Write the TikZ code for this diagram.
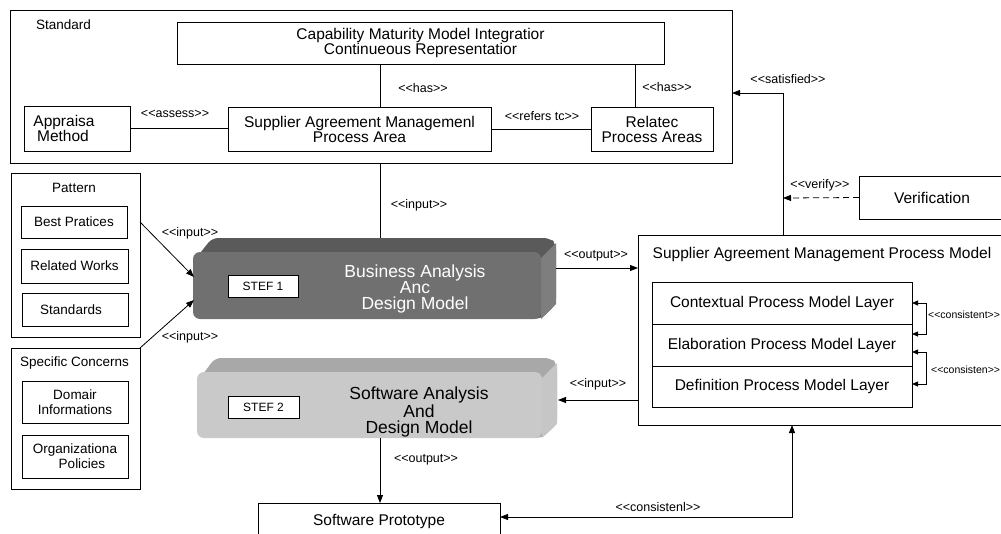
\documentclass[tikz,border=0pt]{standalone}
\usepackage{fontspec}
\setmainfont{Liberation Sans}
\usetikzlibrary{arrows.meta,calc}
\definecolor{sonetop}{HTML}{5A5A5A}
\definecolor{soneside}{HTML}{7E7E7E}
\definecolor{sonefront}{HTML}{707070}
\definecolor{stwotop}{HTML}{A8A8A8}
\definecolor{stwoside}{HTML}{C6C6C6}
\definecolor{stwofront}{HTML}{C9C9C9}
\newcommand\stereo[1]{<\kern0pt<#1>\kern0pt>}
\begin{document}
\begin{tikzpicture}[x=1pt,y=-1pt,
  box/.style={draw=black, line width=0.8pt, inner sep=0pt, outer sep=0pt, align=center, font=\fontsize{15.5}{15}\selectfont},
  sbox/.style={box, font=\fontsize{13.5}{15}\selectfont},
  txt/.style={inner sep=0pt, align=center, font=\fontsize{15.5}{15}\selectfont},
  stxt/.style={inner sep=0pt, align=center, font=\fontsize{13.5}{15}\selectfont},
  lbl/.style={inner sep=0pt, font=\fontsize{12.5}{13}\selectfont},
  tlbl/.style={inner sep=0pt, font=\fontsize{10.5}{11}\selectfont},
  ln/.style={line width=0.8pt},
  arr/.style={-{Triangle[length=8pt,width=6pt]}, line width=0.8pt},
  dbl/.style={{Triangle[length=8pt,width=6pt]}-{Triangle[length=8pt,width=6pt]}, line width=0.8pt},
  sdbl/.style={{Triangle[length=6pt,width=5pt]}-{Triangle[length=6pt,width=5pt]}, line width=0.8pt},
  steptext/.style={inner sep=0pt, align=center, font=\fontsize{17.5}{16}\selectfont},
  steplabel/.style={draw=black, fill=white, line width=0.8pt, inner sep=0pt, font=\fontsize{12}{13}\selectfont},
]
\useasboundingbox (0,0) rectangle (1001,533);
\clip (0,0) rectangle (1001,533);

% ---------- Standard ----------
\node[box, minimum width=722pt, minimum height=153pt] (std) at (371,86.5) {};
\node[stxt, anchor=west] (stdl) at (36,25) {Standard};
\node[box, minimum width=487pt, minimum height=42pt] (cmmi) at (420.5,43) {Capability Maturity Model Integratior\\Continueous Representatior};
\node[box, minimum width=263pt, minimum height=44pt] (sampa) at (359.5,129) {Supplier Agreement Managemenl\\Process Area};
\node[box, minimum width=106pt, minimum height=45pt] (appr) at (77,128.5) {\hspace*{-26pt}Appraisa\\\hspace*{-28pt}Method};
\node[box, minimum width=122pt, minimum height=44pt] (rel) at (652,129) {Relatec\\Process Areas};

\coordinate (hasa) at (380,0);
\draw[ln] (hasa |- cmmi.south) -- (hasa |- sampa.north);
\coordinate (hasb) at (635,0);
\draw[ln] (hasb |- cmmi.south) -- (hasb |- rel.north);
\draw[ln] (appr.east) -- (appr.east -| sampa.west);
\draw[ln] (sampa.east) -- (sampa.east -| rel.west);
\node[lbl] (lhasa) at (423,88) {\stereo{has}};
\node[lbl] (lhasb) at (667,87) {\stereo{has}};
\node[lbl] (lassess) at (175,114) {\stereo{assess}};
\node[lbl] (lrefers) at (542,116) {\stereo{refers tc}};

% ---------- Pattern ----------
\node[box, minimum width=129pt, minimum height=164pt] (pat) at (75.5,255) {};
\node[stxt] (patl) at (74,188) {Pattern};
\node[sbox, minimum width=106pt, minimum height=32pt] (best) at (74,222) {Best Pratices};
\node[sbox, minimum width=107pt, minimum height=34pt] (relw) at (74.5,266) {Related Works};
\node[sbox, minimum width=106pt, minimum height=33pt] (stds) at (75,309.5) {\hspace*{-8pt}Standards};

% ---------- Specific Concerns ----------
\node[box, minimum width=129pt, minimum height=141pt] (spec) at (75.5,418.5) {};
\node[stxt] (specl) at (74.5,363) {Specific Concerns};
\node[sbox, minimum width=106pt, minimum height=42pt] (dom) at (75,402) {Domair\\Informations};
\node[sbox, minimum width=106pt, minimum height=43pt] (org) at (75,456.5) {Organizationa\\\hspace*{14pt}Policies};

% ---------- Step 1 ----------
\fill[sonetop, rounded corners=6pt] (193,300) -- (193,262) -- (212,238) -- (550,238) -- (556,244) -- (556,304) -- (541,319) -- cycle;
\fill[soneside] (541,258) -- (556,243) -- (556,304) -- (541,319) -- cycle;
\node[fill=sonefront, rounded corners=7pt, minimum width=348pt, minimum height=67pt, inner sep=0pt, outer sep=0pt] (s1) at (367,285.5) {};
\node[steplabel, minimum width=70pt, minimum height=22pt] (s1l) at (263,286) {STEF 1};
\node[steptext, text=white] (s1t) at (415,289) {Business Analysis\\Anc\hspace*{20pt}\\Design Model};

% ---------- Step 2 ----------
\fill[stwotop, rounded corners=6pt] (197,430) -- (197,382) -- (215,358) -- (551,358) -- (557,364) -- (557,424) -- (542,438) -- cycle;
\fill[stwoside] (542,378) -- (557,363) -- (557,424) -- (542,438) -- cycle;
\node[fill=stwofront, rounded corners=7pt, minimum width=345pt, minimum height=66pt, inner sep=0pt, outer sep=0pt] (s2) at (369.5,405) {};
\node[steplabel, minimum width=71pt, minimum height=22pt] (s2l) at (263.5,407) {STEF 2};
\node[steptext] (s2t) at (419,412) {Software Analysis\\And\hspace*{38pt}\\Design Model};

% ---------- Software Prototype ----------
\node[box, minimum width=242pt, minimum height=36pt] (sp) at (379,521) {Software Prototype};

% ---------- SAM Process Model ----------
\node[box, minimum width=376pt, minimum height=190pt] (sampm) at (826,330) {};
\node[txt] (sampmt) at (822,254) {Supplier Agreement Management Process Model};
\node[box, minimum width=260pt, minimum height=42pt] (c1) at (782,303) {Contextual Process Model Layer};
\node[box, minimum width=260pt, minimum height=42pt] (c2) at (782,345) {Elaboration Process Model Layer};
\node[box, minimum width=260pt, minimum height=41pt] (c3) at (782,386.5) {Definition Process Model Layer};

% ---------- Verification ----------
\node[box, minimum width=146pt, minimum height=43pt] (ver) at (932,197.5) {Verification};

% ---------- connectors ----------
\coordinate (s1n) at (380,238);
\draw[ln] (s1n |- std.south) -- (s1n);
\node[lbl] (linc) at (419,205) {\stereo{input}};

\coordinate (s1ina) at (194,277);
\draw[arr] (pat.east |- best.east) -- (s1ina);
\node[lbl] (lina) at (190,233) {\stereo{input}};
\coordinate (s1inb) at (194,300);
\draw[arr] (spec.north east) -- (s1inb);
\node[lbl] (linb) at (190,337) {\stereo{input}};

\coordinate (s1e) at (556,268);
\draw[arr] (s1e) -- (s1e -| sampm.west);
\node[lbl] (lout) at (596,256) {\stereo{output}};

\coordinate (s2e) at (558,400);
\draw[arr] (s2e -| sampm.west) -- (s2e);
\node[lbl] (linr) at (598,384) {\stereo{input}};

\coordinate (s2s) at (380,438);
\draw[arr] (s2s) -- (s2s |- sp.north);
\node[lbl] (loutb) at (426,460) {\stereo{output}};

\coordinate (cons) at (792,517);
\draw[dbl] (sp.east |- cons) -- (cons) -- (cons |- sampm.south);
\node[lbl] (lcons) at (658,507) {\stereo{consistenl}};

\coordinate (vl) at (783,198);
\draw[arr, dash pattern=on 6pt off 4pt] (ver.west) -- (vl);
\node[lbl] (lver) at (820,185) {\stereo{verify}};

\coordinate (sat) at (783,93);
\draw[arr] (sat |- sampm.north) -- (sat) -- (sat -| std.east);
\node[lbl] (lsat) at (788,79) {\stereo{satisfied}};

\coordinate (bat) at (926,303);
\coordinate (bab) at (926,334);
\draw[sdbl] (bat -| c1.east) -- (bat) -- (bab) -- (bab -| c2.east);
\node[tlbl, anchor=west] (lba) at (928,315) {\stereo{consistent}};
\coordinate (bbt) at (926,352);
\coordinate (bbb) at (926,384);
\draw[sdbl] (bbt -| c2.east) -- (bbt) -- (bbb) -- (bbb -| c3.east);
\node[tlbl, anchor=west] (lbb) at (931,370) {\stereo{consisten}};
\end{tikzpicture}
\end{document}
